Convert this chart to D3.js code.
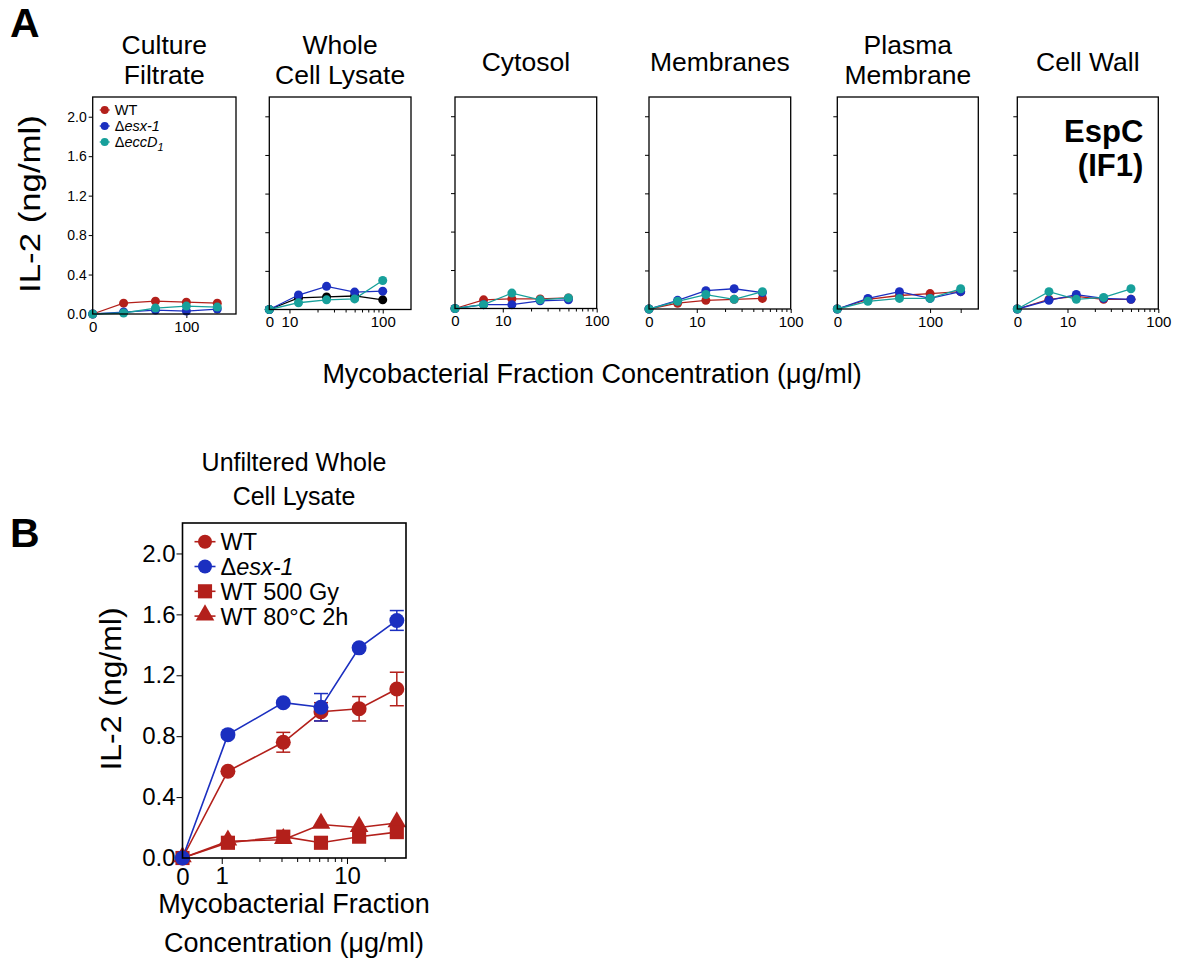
<!DOCTYPE html>
<html>
<head>
<meta charset="utf-8">
<script src="https://cdn.jsdelivr.net/npm/d3@7"></script>
<style>
  body { margin: 0; background: #fff; }
  text { font-family: "Liberation Sans", Arial, sans-serif; fill: #000; }
</style>
</head>
<body>
<script>
// ---- data ----
var seriesLabels = ["WT", "esx-1", "eccD"];

// A: Culture Filtrate
var cfConc = [0, 33, 67, 100, 133];
var cfWT   = [0, 0.11, 0.13, 0.12, 0.11];
var cfEsx  = [0, 0.02, 0.04, 0.03, 0.05];
var cfEcc  = [0, 0.01, 0.06, 0.08, 0.07];
// A: Whole Cell Lysate (WT drawn in black)
var wclConc = [0, 12.5, 25, 50, 100];
var wclWT   = [0, 0.12, 0.13, 0.14, 0.10];
var wclEsx  = [0, 0.15, 0.24, 0.18, 0.19];
var wclEcc  = [0, 0.07, 0.10, 0.11, 0.30];
// A: Cytosol
var cytConc = [0, 6.25, 12.5, 25, 50];
var cytWT   = [0, 0.09, 0.10, 0.10, 0.11];
var cytEsx  = [0, 0.04, 0.04, 0.08, 0.09];
var cytEcc  = [0, 0.04, 0.16, 0.09, 0.11];
// A: Membranes
var memConc = [0, 6.25, 12.5, 25, 50];
var memWT   = [0, 0.06, 0.09, 0.10, 0.11];
var memEsx  = [0, 0.09, 0.19, 0.21, 0.17];
var memEcc  = [0, 0.08, 0.15, 0.10, 0.18];
// A: Plasma Membrane
var pmConc = [0, 33, 67, 100, 133];
var pmWT   = [0, 0.10, 0.14, 0.16, 0.18];
var pmEsx  = [0, 0.11, 0.18, 0.11, 0.18];
var pmEcc  = [0, 0.08, 0.11, 0.11, 0.21];
// A: Cell Wall
var cwConc = [0, 6.25, 12.5, 25, 50];
var cwWT   = [0, 0.10, 0.13, 0.10, 0.10];
var cwEsx  = [0, 0.09, 0.15, 0.11, 0.10];
var cwEcc  = [0, 0.18, 0.10, 0.12, 0.21];

var yTicksA = [0, 0.4, 0.8, 1.2, 1.6, 2.0];

// B: Unfiltered Whole Cell Lysate
var bConc   = [0, 1.12, 3.1, 6.2, 12.5, 25];
var bWT     = [0, 0.57, 0.76, 0.96, 0.98, 1.11];
var bWTErr  = [0, 0.02, 0.065, 0.06, 0.08, 0.11];
var bEsx    = [0, 0.81, 1.02, 0.99, 1.38, 1.56];
var bEsxErr = [0, 0.02, 0.02, 0.09, 0.02, 0.065];
var bGy     = [0, 0.10, 0.14, 0.10, 0.14, 0.17];
var bHeat   = [0, 0.11, 0.12, 0.22, 0.20, 0.23];
var bLegend = ["WT", "esx-1", "WT 500 Gy", "WT 80°C 2h"];

// ---- styles / layout ----
var red = "#b3201b", blue = "#1b2fc0", teal = "#17a09b", black = "#000";

var panelsA = [
  {title: ["Culture", "Filtrate"], conc: cfConc, ys: [cfWT, cfEsx, cfEcc], colors: [red, blue, teal],
   left: 92.7, right: 236, bottom: 314, type: "lin", xMax: 153, minor: []},
  {title: ["Whole", "Cell Lysate"], conc: wclConc, ys: [wclWT, wclEsx, wclEcc], colors: [black, blue, teal],
   left: 269.3, right: 411, bottom: 309.5, type: "log", xMin: 6.08, xMax: 201},
  {title: ["Cytosol"], conc: cytConc, ys: [cytWT, cytEsx, cytEcc], colors: [red, blue, teal],
   left: 455, right: 596.7, bottom: 308.5, type: "log", xMin: 3.1, xMax: 100},
  {title: ["Membranes"], conc: memConc, ys: [memWT, memEsx, memEcc], colors: [red, blue, teal],
   left: 649, right: 790.7, bottom: 309, type: "log", xMin: 3.1, xMax: 100},
  {title: ["Plasma", "Membrane"], conc: pmConc, ys: [pmWT, pmEsx, pmEcc], colors: [red, blue, teal],
   left: 837.3, right: 978.3, bottom: 309, type: "lin", xMax: 152, minor: [133]},
  {title: ["Cell Wall"], conc: cwConc, ys: [cwWT, cwEsx, cwEcc], colors: [red, blue, teal],
   left: 1017.3, right: 1158.3, bottom: 309, type: "log", xMin: 2.8, xMax: 100}
];
var topA = 97;
var logMinor = [20, 30, 40, 50, 60, 70, 80, 90];

var svg = d3.select("body").append("svg")
    .attr("width", 1177)
    .attr("height", 974);

svg.append("text").attr("x", 10).attr("y", 37)
    .style("font-size", "41px").style("font-weight", "bold").text("A");
svg.append("text").attr("x", 10).attr("y", 547)
    .style("font-size", "41px").style("font-weight", "bold").text("B");

// ---- panel A ----
panelsA.forEach(function(p, i) {
    var w = p.right - p.left, h = p.bottom - topA;
    var g = svg.append("g").attr("transform", "translate(" + p.left + "," + topA + ")");

    var y = d3.scaleLinear().domain([0, 2.2]).range([h, 0]);
    var xs, xPos;
    if (p.type === "lin") {
        xs = d3.scaleLinear().domain([0, p.xMax]).range([0, w]);
        xPos = function(v) { return xs(v); };
    } else {
        xs = d3.scaleLog().domain([p.xMin, p.xMax]).range([0, w]);
        xPos = function(v) { return v === 0 ? 0 : xs(v); };
    }

    // title
    var cx = w / 2;
    var t = g.append("text").attr("text-anchor", "middle").style("font-size", "26.5px");
    if (p.title.length === 2) {
        t.append("tspan").attr("x", cx).attr("y", 54 - topA).text(p.title[0]);
        t.append("tspan").attr("x", cx).attr("y", 84 - topA).text(p.title[1]);
    } else {
        t.append("tspan").attr("x", cx).attr("y", 71 - topA).text(p.title[0]);
    }

    // y axis
    var ya = g.append("g").call(d3.axisLeft(y).tickValues(yTicksA).tickSize(4)
        .tickFormat(i === 0 ? d3.format(".1f") : function() { return ""; }));
    ya.select(".domain").remove();
    ya.selectAll("text").style("font-size", "14px").attr("dx", "1");

    // x axis
    if (p.type === "lin") {
        var xa = g.append("g").attr("transform", "translate(0," + h + ")")
            .call(d3.axisBottom(xs).tickValues([0, 100]).tickSize(4).tickFormat(d3.format("d")));
        xa.select(".domain").remove();
        xa.selectAll("text").style("font-size", "15px");
        if (p.minor.length) {
            var xm = g.append("g").attr("transform", "translate(0," + h + ")")
                .call(d3.axisBottom(xs).tickValues(p.minor).tickSize(4).tickFormat(""));
            xm.select(".domain").remove();
        }
    } else {
        var zero = d3.scaleOrdinal().domain([0]).range([0]);
        var xz = g.append("g").attr("transform", "translate(0," + h + ")")
            .call(d3.axisBottom(zero).tickSize(0).tickPadding(7));
        xz.select(".domain").remove();
        xz.selectAll("text").style("font-size", "15px");
        var xa2 = g.append("g").attr("transform", "translate(0," + h + ")")
            .call(d3.axisBottom(xs).tickValues([10, 100]).tickSize(4).tickFormat(d3.format("d")));
        xa2.select(".domain").remove();
        xa2.selectAll("text").style("font-size", "15px");
        var xm2 = g.append("g").attr("transform", "translate(0," + h + ")")
            .call(d3.axisBottom(xs).tickValues(logMinor.filter(function(v) { return v < p.xMax; }))
                .tickSize(3).tickFormat(""));
        xm2.select(".domain").remove();
    }

    // series
    var line = d3.line().x(function(d) { return xPos(d[0]); }).y(function(d) { return y(d[1]); });
    p.ys.forEach(function(vals, s) {
        var pts = p.conc.map(function(c, k) { return [c, vals[k]]; });
        g.append("path").datum(pts).attr("fill", "none")
            .attr("stroke", p.colors[s]).attr("stroke-width", 1.3).attr("d", line);
        g.selectAll(null).data(pts).enter().append("circle")
            .attr("cx", function(d) { return xPos(d[0]); })
            .attr("cy", function(d) { return y(d[1]); })
            .attr("r", 4.5).attr("fill", p.colors[s]);
    });

    // frame
    g.append("rect").attr("width", w).attr("height", h)
        .attr("fill", "none").attr("stroke", "#000").attr("stroke-width", 1.3);

    // legend in first panel
    if (i === 0) {
        var legColors = [red, blue, teal];
        seriesLabels.forEach(function(lab, s) {
            var ly = 110 - topA + s * 16;
            g.append("line").attr("x1", 7).attr("x2", 17).attr("y1", ly).attr("y2", ly)
                .attr("stroke", legColors[s]).attr("stroke-width", 1.3);
            g.append("circle").attr("cx", 12).attr("cy", ly).attr("r", 4).attr("fill", legColors[s]);
            var lt = g.append("text").attr("x", 22).attr("y", ly + 5).style("font-size", "14.5px");
            if (s === 0) {
                lt.text(lab);
            } else {
                lt.append("tspan").text("Δ");
                lt.append("tspan").style("font-style", "italic").text(lab);
                if (s === 2) {
                    lt.append("tspan").style("font-style", "italic").style("font-size", "11px")
                        .attr("dy", 4).text("1");
                }
            }
        });
    }
    if (i === 5) {
        var et = g.append("text").attr("text-anchor", "end")
            .style("font-size", "31px").style("font-weight", "bold");
        et.append("tspan").attr("x", w - 15).attr("y", 142 - topA).text("EspC");
        et.append("tspan").attr("x", w - 15).attr("y", 176 - topA).text("(IF1)");
    }
});

svg.append("text").attr("transform", "translate(40,204) rotate(-90) scale(1.2,1)")
    .attr("text-anchor", "middle").style("font-size", "29px").text("IL-2 (ng/ml)");
svg.append("text").attr("x", 592).attr("y", 383).attr("text-anchor", "middle")
    .style("font-size", "27px").text("Mycobacterial Fraction Concentration (μg/ml)");

// ---- panel B ----
var bLeft = 182.5, bRight = 406, bTop = 523, bBottom = 858;
var bw = bRight - bLeft, bh = bBottom - bTop;
var gb = svg.append("g").attr("transform", "translate(" + bLeft + "," + bTop + ")");
var yb = d3.scaleLinear().domain([0, 2.2]).range([bh, 0]);
var xb = d3.scaleLog().domain([0.486, 29.6]).range([0, bw]);
var xbPos = function(v) { return v === 0 ? 0 : xb(v); };

var bt = svg.append("text").attr("text-anchor", "middle").style("font-size", "25px");
bt.append("tspan").attr("x", 294).attr("y", 471).text("Unfiltered Whole");
bt.append("tspan").attr("x", 294).attr("y", 505).text("Cell Lysate");

var yba = gb.append("g").call(d3.axisLeft(yb).tickValues(yTicksA).tickSize(6).tickFormat(d3.format(".1f")));
yba.select(".domain").remove();
yba.selectAll("text").style("font-size", "24px").attr("dx", "2");

var zeroB = d3.scaleOrdinal().domain([0]).range([0]);
var xbz = gb.append("g").attr("transform", "translate(0," + bh + ")")
    .call(d3.axisBottom(zeroB).tickSize(0).tickPadding(10));
xbz.select(".domain").remove();
xbz.selectAll("text").style("font-size", "24px");
var xba = gb.append("g").attr("transform", "translate(0," + bh + ")")
    .call(d3.axisBottom(xb).tickValues([1, 10]).tickSize(6).tickFormat(d3.format("d")));
xba.select(".domain").remove();
xba.selectAll("text").style("font-size", "24px");
var xbm = gb.append("g").attr("transform", "translate(0," + bh + ")")
    .call(d3.axisBottom(xb).tickValues([2, 3, 4, 5, 6, 7, 8, 9, 20]).tickSize(4).tickFormat(""));
xbm.select(".domain").remove();

var lineB = d3.line().x(function(d) { return xbPos(d[0]); }).y(function(d) { return yb(d[1]); });
function pts(vals, errs) {
    return bConc.map(function(c, k) { return [c, vals[k], errs ? errs[k] : 0]; });
}
function drawErr(data, color) {
    var e = gb.selectAll(null).data(data.filter(function(d) { return d[2] > 0.03; })).enter().append("g")
        .attr("stroke", color).attr("stroke-width", 1.5);
    e.append("line")
        .attr("x1", function(d) { return xbPos(d[0]); }).attr("x2", function(d) { return xbPos(d[0]); })
        .attr("y1", function(d) { return yb(d[1] - d[2]); }).attr("y2", function(d) { return yb(d[1] + d[2]); });
    [-1, 1].forEach(function(sg) {
        e.append("line")
            .attr("x1", function(d) { return xbPos(d[0]) - 7; }).attr("x2", function(d) { return xbPos(d[0]) + 7; })
            .attr("y1", function(d) { return yb(d[1] + sg * d[2]); }).attr("y2", function(d) { return yb(d[1] + sg * d[2]); });
    });
}
var square = d3.symbol().type(d3.symbolSquare).size(200);
var tri = d3.symbol().type(d3.symbolTriangle).size(150);

var heatPts = pts(bHeat), gyPts = pts(bGy), wtPts = pts(bWT, bWTErr), esxPts = pts(bEsx, bEsxErr);
[[heatPts, red], [gyPts, red], [wtPts, red], [esxPts, blue]].forEach(function(s) {
    gb.append("path").datum(s[0]).attr("fill", "none").attr("stroke", s[1])
        .attr("stroke-width", 1.6).attr("d", lineB);
});
drawErr(wtPts, red);
drawErr(esxPts, blue);
gb.selectAll(null).data(heatPts).enter().append("path").attr("d", tri).attr("fill", red)
    .attr("transform", function(d) { return "translate(" + xbPos(d[0]) + "," + (yb(d[1]) - 1) + ")"; });
gb.selectAll(null).data(gyPts).enter().append("path").attr("d", square).attr("fill", red)
    .attr("transform", function(d) { return "translate(" + xbPos(d[0]) + "," + yb(d[1]) + ")"; });
gb.selectAll(null).data(wtPts).enter().append("circle").attr("r", 7.5).attr("fill", red)
    .attr("cx", function(d) { return xbPos(d[0]); }).attr("cy", function(d) { return yb(d[1]); });
gb.selectAll(null).data(esxPts).enter().append("circle").attr("r", 7.5).attr("fill", blue)
    .attr("cx", function(d) { return xbPos(d[0]); }).attr("cy", function(d) { return yb(d[1]); });

gb.append("rect").attr("width", bw).attr("height", bh)
    .attr("fill", "none").attr("stroke", "#000").attr("stroke-width", 1.6);

// legend B
var legBColors = [red, blue, red, red];
bLegend.forEach(function(lab, s) {
    var ly = 541.7 - bTop + s * 24.8;
    gb.append("line").attr("x1", 12).attr("x2", 33).attr("y1", ly).attr("y2", ly)
        .attr("stroke", legBColors[s]).attr("stroke-width", 1.6);
    var m;
    if (s < 2) m = gb.append("circle").attr("cx", 22.5).attr("cy", ly).attr("r", 7);
    else m = gb.append("path").attr("d", s === 2 ? square : tri)
        .attr("transform", "translate(22.5," + (ly - (s === 3 ? 1 : 0)) + ")");
    m.attr("fill", legBColors[s]);
    var lt = gb.append("text").attr("x", 38).attr("y", ly + 8.5).style("font-size", "23.5px");
    if (s === 1) {
        lt.append("tspan").text("Δ");
        lt.append("tspan").style("font-style", "italic").text(lab);
    } else {
        lt.text(lab);
    }
});

svg.append("text").attr("transform", "translate(121,689) rotate(-90) scale(1.1,1)")
    .attr("text-anchor", "middle").style("font-size", "29px").text("IL-2 (ng/ml)");
var bx = svg.append("text").attr("text-anchor", "middle").style("font-size", "27px");
bx.append("tspan").attr("x", 294).attr("y", 913).text("Mycobacterial Fraction");
bx.append("tspan").attr("x", 294).attr("y", 952).text("Concentration (μg/ml)");
</script>
</body>
</html>
